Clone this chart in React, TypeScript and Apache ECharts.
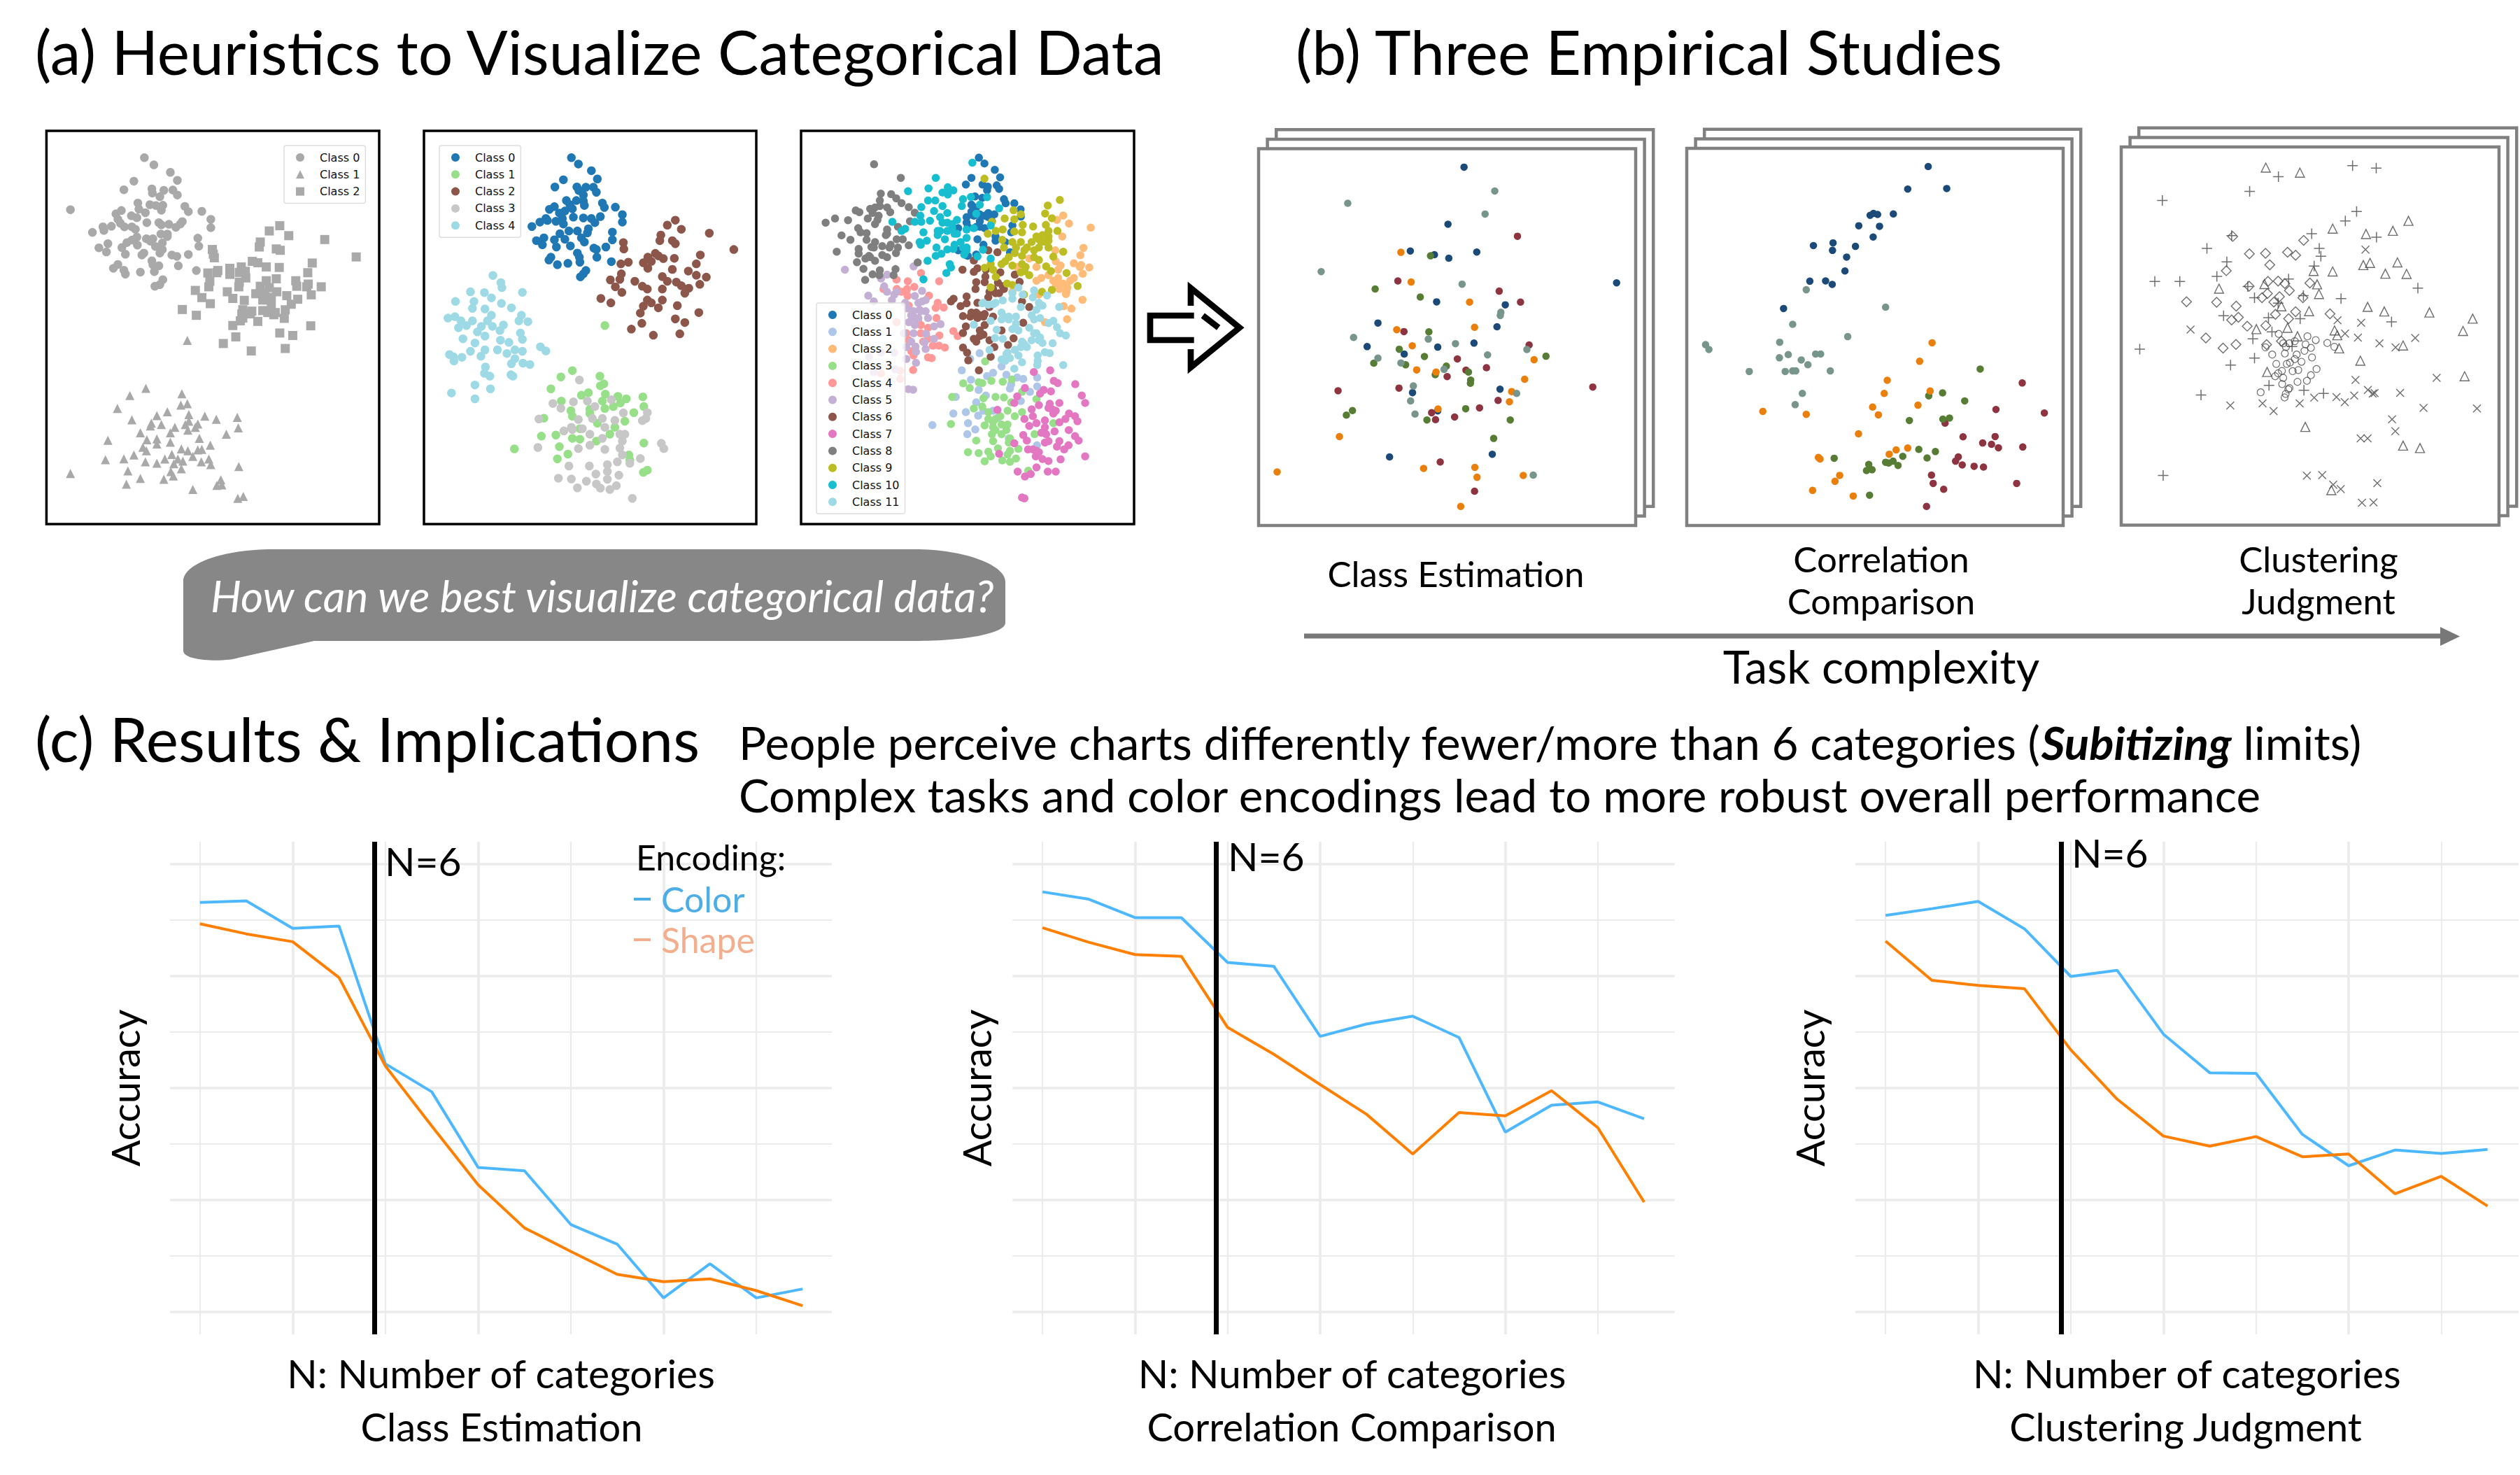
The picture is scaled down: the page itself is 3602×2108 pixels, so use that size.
import React, { useEffect, useRef } from "react";
import * as echarts from "echarts";

const FONT = "Lato";

// ---- (a) heuristics scatter panels (values in picture units of each panel)
const a1Class0 = [[233,165],[252,191],[285,218],[299,247],[212,250],[192,281],[248,278],[272,283],[290,282],[249,293],[299,300],[264,306],[85,353],[220,329],[244,335],[256,338],[270,337],[267,355],[314,341],[321,360],[348,359],[187,356],[222,351],[235,364],[176,368],[207,375],[218,382],[366,388],[180,388],[185,402],[238,400],[262,400],[267,408],[282,406],[309,396],[305,405],[296,417],[366,418],[150,415],[167,413],[152,428],[129,435],[193,415],[208,415],[215,424],[266,441],[279,441],[279,450],[340,456],[218,452],[208,463],[237,458],[250,458],[245,467],[160,476],[198,472],[269,473],[255,486],[342,485],[142,491],[188,490],[219,481],[157,506],[232,510],[269,497],[288,517],[298,522],[321,515],[195,514],[228,517],[264,510],[248,538],[180,551],[250,552],[171,565],[262,556],[253,577],[301,556],[192,572],[195,586],[225,579],[337,573],[270,606],[264,624],[254,630]];
const a1Class1 = [[236,999],[204,1025],[308,1019],[319,1055],[306,1060],[179,1072],[279,1084],[322,1094],[258,1098],[354,1100],[419,1104],[377,1111],[208,1113],[322,1118],[247,1125],[267,1130],[340,1128],[315,1130],[294,1140],[421,1142],[335,1140],[245,1135],[225,1160],[397,1165],[285,1160],[320,1150],[258,1182],[343,1180],[160,1187],[238,1185],[285,1194],[230,1212],[258,1200],[365,1205],[307,1218],[320,1225],[348,1220],[340,1222],[237,1225],[212,1240],[288,1238],[330,1245],[155,1257],[192,1254],[362,1255],[274,1255],[300,1255],[235,1265],[258,1270],[310,1262],[347,1265],[366,1275],[292,1272],[422,1282],[307,1290],[200,1298],[286,1300],[85,1307],[291,1316],[225,1325],[272,1328],[386,1330],[197,1346],[388,1348],[378,1350],[330,1365],[431,1390],[420,1397],[319,826]];
const a1Class2 = [[504,411],[483,430],[522,447],[594,461],[465,470],[463,488],[497,495],[505,500],[369,497],[371,514],[373,527],[657,524],[569,546],[449,540],[460,545],[427,560],[477,560],[503,562],[404,565],[380,573],[360,582],[378,581],[423,580],[435,576],[404,587],[560,581],[436,600],[423,615],[477,610],[497,603],[536,610],[364,612],[422,632],[538,630],[561,622],[558,632],[587,632],[335,645],[362,632],[465,630],[483,635],[399,650],[456,657],[474,655],[498,650],[518,664],[348,671],[410,674],[433,681],[567,661],[540,677],[470,680],[487,670],[527,695],[365,693],[487,700],[309,714],[337,735],[430,715],[515,715],[428,730],[445,730],[470,718],[430,745],[460,757],[492,733],[513,746],[410,772],[566,773],[416,813],[504,799],[530,808],[391,837],[447,864],[515,855],[425,755],[495,725],[480,725],[448,720]];

const a2Class0 = [[1088,165],[1102,188],[1128,212],[1140,242],[1072,245],[1055,271],[1099,271],[1117,272],[1132,272],[1103,284],[1138,290],[1112,300],[1078,320],[1098,320],[1112,322],[1085,335],[1114,338],[1150,329],[1154,345],[1176,344],[1054,342],[1044,352],[1075,358],[1090,350],[1037,385],[1064,365],[1070,385],[1092,380],[1112,383],[1128,385],[1146,378],[1190,371],[1190,398],[1025,398],[1009,414],[1040,392],[1057,395],[1072,405],[1135,400],[1033,455],[1018,465],[1030,480],[1058,488],[1054,462],[1065,440],[1083,430],[1100,430],[1122,422],[1120,437],[1170,434],[1108,455],[1114,470],[1170,462],[1086,484],[1133,492],[1157,488],[1139,525],[1100,510],[1104,525],[1047,525],[1043,535],[1060,552],[1081,547],[1105,543],[1168,541],[1117,573],[1112,585],[1106,596],[1075,460],[1138,497]];
const a2Class1 = [[1090,935],[1067,958],[1145,955],[1153,983],[1146,990],[1047,1001],[1108,1024],[1122,1015],[1156,1020],[1231,1030],[1181,1028],[1198,1037],[1068,1045],[1150,1045],[1186,1052],[1233,1065],[1172,1065],[1155,1072],[1087,1080],[1125,1075],[1213,1087],[1090,1100],[1125,1090],[1033,1107],[1195,1118],[1140,1125],[1175,1140],[1105,1145],[1165,1165],[1028,1172],[1057,1168],[1090,1180],[1105,1183],[1138,1190],[1233,1197],[1064,1210],[974,1218],[1081,1237],[1203,1240],[1060,1254],[1205,1258],[1240,1295],[1232,1303],[1155,772]];
const a2Class2 = [[1296,391],[1280,409],[1308,424],[1364,438],[1267,445],[1265,465],[1290,465],[1296,476],[1192,472],[1193,495],[1413,497],[1346,517],[1256,511],[1262,520],[1241,525],[1294,529],[1187,549],[1202,543],[1232,545],[1248,540],[1272,530],[1338,549],[1241,565],[1290,569],[1188,585],[1322,575],[1338,590],[1358,597],[1185,605],[1166,607],[1215,612],[1270,595],[1280,612],[1176,632],[1298,615],[1345,623],[1308,628],[1323,637],[1189,652],[1240,640],[1270,640],[1230,630],[1147,674],[1167,690],[1315,655],[1240,680],[1270,680],[1300,700],[1232,702],[1262,708],[1248,690],[1226,727],[1343,725],[1296,748],[1315,761],[1229,764],[1208,785],[1252,807],[1305,802]];
const a2Class3 = [[1104,969],[1051,1054],[1092,1048],[1120,1045],[1067,1071],[1135,1065],[1168,1040],[1240,1087],[1192,1088],[1237,1108],[1023,1110],[1102,1112],[1130,1108],[1150,1108],[1175,1115],[1230,1116],[1088,1140],[1073,1153],[1110,1145],[1155,1140],[1185,1165],[1195,1165],[1125,1165],[1090,1148],[1150,1180],[1190,1190],[1268,1198],[1273,1217],[1021,1213],[1102,1217],[1155,1220],[1185,1215],[1125,1205],[1226,1253],[1190,1240],[1124,1280],[1083,1280],[1160,1275],[1180,1265],[1205,1270],[1137,1309],[1160,1300],[1183,1313],[1062,1324],[1088,1327],[1118,1335],[1160,1328],[1138,1345],[1178,1351],[1100,1359],[1146,1360],[1165,1365],[1210,1397]];
const a2Class4 = [[970,340],[931,591],[947,617],[949,635],[886,650],[914,653],[990,652],[928,672],[856,685],[893,685],[948,692],[890,710],[968,708],[915,712],[928,735],[988,735],[841,745],[855,740],[867,755],[890,755],[983,755],[1001,758],[920,755],[878,772],[908,775],[952,770],[862,780],[930,775],[900,795],[945,790],[986,799],[915,810],[871,820],[990,822],[895,835],[963,833],[946,825],[886,865],[915,860],[940,860],[975,860],[1026,849],[1037,864],[990,865],[959,873],[844,877],[852,885],[869,887],[907,883],[853,900],[975,892],[968,910],[991,908],[1005,913],[916,922],[914,945],[925,955],[967,950],[971,955],[895,987],[926,1001],[848,1016],[895,1037]];

const a3Classes = [
  [[811,165],[834,186],[877,209],[899,236],[780,238],[757,262],[826,262],[848,270],[885,265],[895,278],[845,283],[915,315],[922,330],[958,330],[984,352],[795,305],[825,310],[780,335],[800,345],[850,365],[875,370],[760,380],[790,375],[835,375],[985,378],[865,395],[815,415],[835,420],[950,410],[945,435],[765,415],[725,420],[805,460],[880,465],[920,470],[830,480],[725,500],[765,520],[800,515],[940,507],[758,517],[780,360],[815,370],[850,380],[815,395],[880,450],[760,400],[800,415]],
  [[814,872],[775,893],[740,934],[870,943],[905,920],[925,950],[778,968],[1053,960],[845,955],[970,960],[995,965],[945,985],[1053,992],[810,1005],[940,1000],[1023,1012],[715,1030],[840,1025],[985,1045],[800,1050],[705,1090],[757,1085],[808,1098],[890,1105],[766,1125],[618,1132],[796,1148],[763,1165],[935,1180],[1052,1205],[870,1080],[830,1080]],
  [[1161,374],[1135,390],[1185,403],[1275,418],[1157,450],[1245,491],[1232,518],[1128,500],[1130,540],[1205,547],[1235,553],[1269,562],[1050,560],[1140,570],[1242,585],[1205,600],[1070,600],[1140,600],[1190,610],[1050,610],[1178,635],[1145,640],[1172,658],[950,650],[1241,679],[1060,660],[1163,702],[1195,711],[1177,749],[1085,760],[970,560],[1020,530],[1100,590],[1130,620],[1160,620],[1175,650],[1120,610],[1150,555],[1230,560]],
  [[837,902],[746,981],[773,998],[810,977],[825,980],[863,972],[910,975],[948,967],[700,1030],[830,1035],[880,1030],[915,1032],[1050,1038],[990,1012],[790,1072],[825,1065],[945,1050],[850,1085],[930,1080],[990,1085],[960,1100],[695,1128],[880,1110],[835,1133],[870,1140],[930,1130],[1120,1125],[1042,1165],[865,1165],[905,1165],[800,1188],[870,1190],[935,1195],[890,1216],[975,1218],[940,1225],[766,1230],[810,1233],[850,1228],[860,1245],[930,1238],[965,1253],[835,1263],[908,1260],[940,1265],[1016,1297],[870,1120],[900,1100],[925,1150],[880,1150],[905,1130],[850,1110],[940,1180]],
  [[571,582],[469,606],[516,612],[646,612],[543,632],[513,640],[604,664],[515,665],[640,690],[632,708],[665,707],[635,745],[570,770],[705,792],[723,810],[647,808],[600,780],[570,800],[520,825],[620,845],[645,845],[670,852],[600,887],[615,890],[530,865],[538,933],[510,800],[415,640],[485,936],[405,945],[484,965],[470,640],[490,650],[520,700],[560,760],[580,830],[600,820],[540,880],[470,760]],
  [[255,570],[540,558],[430,588],[405,602],[352,664],[418,630],[430,650],[460,660],[545,665],[575,647],[375,685],[575,685],[590,680],[565,715],[590,720],[600,745],[560,745],[540,720],[515,710],[545,770],[625,775],[652,767],[540,800],[592,802],[625,820],[585,833],[548,848],[590,857],[550,867],[510,850],[510,893],[550,907],[518,1002],[538,1004],[460,870],[405,870],[355,885],[375,940],[463,930],[330,800],[450,680],[470,650],[505,690],[530,735],[545,745],[520,760],[500,800],[530,830],[570,720],[560,690]],
  [[850,500],[888,507],[790,537],[805,565],[743,570],[790,578],[840,570],[900,580],[838,595],[960,588],[800,615],[835,615],[890,617],[980,614],[797,640],[915,640],[855,650],[895,655],[706,675],[695,685],[760,667],[850,670],[990,685],[760,692],[735,702],[805,690],[1020,705],[855,705],[800,725],[835,730],[745,738],[775,740],[805,745],[870,740],[995,762],[757,775],[835,770],[905,790],[745,799],[815,790],[800,830],[955,818],[855,825],[932,842],[745,852],[762,870],[875,850],[860,885],[767,898],[811,934],[880,655],[910,630],[870,640],[830,740],[815,735],[780,725],[830,805],[815,810],[790,820]],
  [[1039,940],[1107,934],[1122,972],[1138,980],[1211,984],[1002,998],[1080,1005],[1110,1010],[1065,1018],[1238,1025],[970,1028],[958,1052],[1252,1052],[1105,1055],[1145,1052],[1060,1060],[1030,1075],[1115,1075],[1130,1080],[888,1077],[1185,1090],[1210,1100],[1035,1100],[1000,1110],[1170,1110],[1085,1115],[1145,1122],[1220,1118],[1050,1125],[1020,1135],[1085,1140],[1125,1155],[1184,1150],[995,1168],[1090,1165],[1210,1172],[1225,1188],[1010,1188],[1085,1195],[1145,1190],[958,1198],[1183,1205],[1135,1210],[1165,1220],[1015,1220],[1050,1225],[1035,1220],[895,1236],[1075,1255],[1047,1245],[1100,1262],[1150,1256],[1252,1245],[1050,1285],[972,1300],[1097,1300],[1130,1300],[1002,1318],[1026,1309],[990,1394],[1000,1397],[1100,1070],[1120,1090],[1070,1160],[1100,1190],[1060,1230]],
  [[376,189],[487,238],[404,295],[447,297],[468,312],[490,329],[400,320],[520,344],[300,356],[315,362],[360,350],[380,345],[430,345],[545,364],[443,362],[350,385],[395,375],[214,385],[268,391],[175,400],[525,395],[380,405],[310,420],[475,415],[430,425],[345,438],[320,435],[241,446],[425,445],[278,462],[345,462],[380,470],[470,460],[495,460],[520,482],[365,488],[410,485],[440,490],[475,490],[312,495],[467,510],[221,505],[312,512],[355,520],[410,517],[430,525],[380,538],[305,543],[340,530],[557,544],[332,567],[465,568],[400,572],[370,587],[398,590],[457,590],[339,607],[400,340],[390,390],[370,365],[430,440],[445,480],[360,525],[375,490]],
  [[834,241],[1147,318],[1097,338],[955,355],[985,370],[1086,367],[918,385],[958,388],[1114,384],[865,397],[993,408],[1036,414],[1089,408],[881,430],[910,425],[848,440],[958,432],[990,435],[1100,430],[1137,430],[908,462],[1050,450],[1075,445],[950,470],[985,470],[1030,470],[1100,465],[915,490],[965,490],[1010,490],[1060,490],[1100,490],[1161,505],[1120,523],[935,525],[990,520],[1040,525],[905,550],[950,555],[990,550],[1060,535],[1090,558],[860,550],[835,563],[870,570],[985,580],[1110,575],[1175,582],[1020,590],[881,596],[928,620],[950,625],[1221,629],[860,634],[1073,650],[1114,643],[998,660],[1070,470],[1090,470],[1040,500],[1000,500],[960,510],[1005,560],[1000,575],[920,540],[1060,460],[1100,450]],
  [[784,183],[632,238],[517,286],[602,276],[682,272],[660,291],[705,283],[682,298],[845,308],[600,320],[630,320],[745,315],[778,307],[815,335],[572,344],[660,340],[740,340],[625,358],[895,348],[680,365],[800,368],[568,375],[452,397],[545,397],[572,397],[608,393],[720,390],[660,400],[700,405],[860,410],[490,430],[505,422],[581,435],[640,430],[680,430],[760,425],[790,420],[640,445],[710,440],[670,460],[760,455],[570,480],[595,465],[565,470],[635,490],[710,480],[680,497],[760,490],[705,495],[828,498],[632,520],[655,513],[750,515],[805,522],[860,530],[598,538],[690,550],[695,562],[676,582],[581,605],[650,380],[680,400],[700,420],[720,440],[650,430],[735,470],[745,490],[760,500]],
  [[975,635],[1040,645],[950,655],[993,660],[1094,663],[950,675],[1035,670],[910,681],[825,692],[850,697],[880,690],[1060,690],[1075,700],[1144,705],[1050,715],[985,705],[905,725],[1030,735],[935,740],[965,740],[905,750],[1065,745],[860,755],[1040,750],[790,769],[965,765],[1120,755],[1100,763],[885,787],[950,785],[1020,780],[1135,778],[1050,800],[975,790],[1148,800],[1172,808],[878,817],[910,820],[1065,815],[1030,825],[1075,835],[1117,836],[855,860],[990,830],[1010,850],[960,860],[1085,868],[1105,872],[925,875],[975,880],[1055,880],[905,895],[1055,900],[990,905],[1053,915],[920,900],[1161,915],[958,928],[830,690],[870,695],[915,740],[935,750],[960,780],[1040,800],[1060,825],[985,850],[1000,840],[930,870],[940,890]],
];
const a3Colors = ["#1F77B4","#AEC7E8","#FFBB78","#98DF8A","#FF9896","#C5B0D5","#8C564B","#E377C2","#7F7F7F","#BCBD22","#17BECF","#9EDAE5"];
const a2Colors = ["#1F77B4","#98DF8A","#8C564B","#C7C7C7","#9EDAE5"];
const a1Color = "#A9A9A9";

// ---- (b) three empirical studies
const navy = "#1B4A78", sage = "#78958B", red = "#8E3340", orange = "#EB7F0B", green = "#577C34";
const b1Navy = [[841,180],[783,393],[647,493],[734,507],[786,520],[887,497],[1392,612],[742,683],[990,694],[530,762],[960,776],[491,850],[746,852],[877,837],[625,878],[655,1022],[971,1009],[746,1090],[572,1262],[943,1252]];
const b1Sage = [[952,269],[421,315],[917,355],[325,570],[834,617],[974,722],[972,734],[442,816],[712,822],[810,839],[926,881],[1068,861],[530,893],[613,911],[769,935],[658,997],[1031,1025],[648,1053],[664,1102],[1091,1330]];
const b1Red = [[1034,438],[602,605],[968,643],[1045,684],[624,794],[1076,844],[817,896],[848,938],[922,929],[780,962],[1306,1001],[606,1005],[386,1015],[964,1051],[724,1097],[897,1079],[807,1113],[738,1123],[755,1281],[879,1390]];
const b1Orange = [[613,498],[650,609],[861,684],[598,787],[879,778],[654,847],[1094,899],[670,937],[740,945],[1060,972],[1013,1018],[1005,1056],[747,1083],[391,1186],[166,1318],[695,1305],[880,1301],[888,1338],[1055,1331],[829,1447]];
const b1Green = [[720,511],[520,635],[683,665],[714,795],[607,860],[698,887],[1137,886],[515,912],[630,918],[777,923],[737,955],[857,945],[865,975],[864,987],[438,1089],[416,1106],[847,1082],[707,1124],[1008,1124],[948,1193]];
const b2Navy = [[951,178],[877,262],[1018,260],[741,360],[753,353],[768,357],[825,355],[700,399],[775,401],[752,441],[536,473],[607,463],[605,491],[688,476],[656,516],[650,568],[523,606],[580,605],[604,618],[428,708]];
const b2Sage = [[510,638],[797,703],[461,767],[660,813],[414,834],[146,843],[158,861],[445,880],[413,892],[544,878],[562,878],[492,900],[516,918],[304,943],[434,943],[461,941],[472,941],[597,941],[496,1025],[470,1067]];
const b2Orange = [[965,836],[920,905],[803,976],[792,1025],[958,1016],[914,1069],[353,1092],[510,1103],[750,1076],[771,1105],[699,1176],[877,1229],[835,1236],[810,1252],[554,1264],[560,1270],[631,1331],[614,1353],[533,1387],[680,1408]];
const b2Green = [[1139,934],[1003,1023],[953,1034],[1083,1053],[883,1126],[1004,1121],[1028,1117],[917,1234],[977,1242],[947,1266],[859,1260],[611,1267],[797,1282],[808,1285],[824,1278],[842,1294],[736,1290],[748,1310],[728,1313],[739,1405]];
const b2Red = [[1291,986],[1196,1085],[1371,1098],[1012,1136],[1077,1187],[1193,1186],[1148,1210],[1180,1215],[1205,1228],[1293,1225],[1060,1262],[1050,1278],[1074,1292],[1117,1297],[1151,1300],[963,1330],[969,1361],[1007,1383],[1271,1361],[945,1447]];
const b3Plus = [[669,216],[945,175],[1033,184],[562,271],[237,305],[960,346],[918,381],[793,429],[1034,442],[403,484],[821,484],[827,513],[477,534],[802,550],[440,588],[209,607],[302,607],[707,598],[1188,632],[555,626],[580,668],[762,660],[902,671],[668,688],[465,735],[632,742],[750,746],[1090,758],[645,795],[574,821],[720,850],[153,860],[580,893],[491,919],[634,995],[764,1013],[837,1025],[381,1031],[240,1331],[495,436]];
const b3Triangle = [[622,182],[749,201],[1153,381],[871,410],[995,430],[1095,418],[1010,538],[985,546],[1112,536],[800,568],[871,570],[1067,578],[1146,579],[448,634],[617,617],[813,618],[820,654],[680,700],[1001,702],[783,718],[1063,719],[1231,723],[1392,746],[703,780],[587,785],[878,790],[1356,792],[888,808],[740,812],[1133,846],[895,857],[974,903],[627,945],[1362,961],[769,1150],[1133,1220],[1196,1229],[866,1386]];
const b3Diamond = [[499,439],[763,454],[561,504],[621,502],[703,498],[733,509],[637,545],[475,567],[560,625],[630,607],[668,606],[693,615],[786,613],[710,641],[628,652],[608,668],[673,664],[760,668],[327,683],[439,685],[652,684],[512,699],[733,720],[658,730],[861,728],[495,751],[520,741],[707,746],[553,774],[622,772],[399,818],[511,842],[463,856],[680,830],[625,843]];
const b3Cross = [[889,752],[977,761],[342,787],[917,802],[965,817],[1045,838],[1178,818],[1105,853],[956,975],[1258,967],[1002,1012],[1020,1026],[1027,1024],[1122,1023],[951,1033],[885,1039],[916,1058],[802,1041],[748,1062],[610,1062],[490,1070],[651,1091],[1209,1079],[1408,1081],[1092,1122],[1104,1166],[975,1193],[1001,1193],[993,488],[775,1332],[832,1330],[873,1366],[901,1382],[1037,1360],[980,1433],[1023,1432]];
const b3Circle = [[670,803],[777,812],[808,826],[730,830],[710,838],[687,838],[697,852],[770,842],[790,855],[621,853],[851,837],[877,851],[646,880],[693,876],[737,880],[766,866],[794,891],[730,897],[755,907],[712,910],[661,915],[700,915],[811,934],[682,941],[722,942],[743,938],[668,950],[657,961],[790,957],[687,967],[775,978],[740,982],[683,990],[710,1005],[603,1021],[696,1027],[692,1040],[706,1010]];

// ---- (c) accuracy by number of categories
const categories = [2,3,4,5,6,7,8,9,10,11,12,13,14,15];
const c1Color = [0.731,0.734,0.685,0.689,0.443,0.393,0.258,0.252,0.156,0.121,0.025,0.086,0.025,0.041];
const c1Shape = [0.693,0.675,0.661,0.597,0.439,0.332,0.227,0.150,0.108,0.067,0.054,0.059,0.038,0.011];
const c2Color = [0.750,0.737,0.704,0.704,0.624,0.617,0.492,0.514,0.528,0.490,0.321,0.369,0.375,0.345];
const c2Shape = [0.686,0.660,0.638,0.635,0.508,0.460,0.406,0.353,0.282,0.356,0.350,0.395,0.329,0.196];
const c3Color = [0.708,0.720,0.733,0.684,0.599,0.610,0.496,0.427,0.426,0.317,0.261,0.289,0.283,0.290];
const c3Shape = [0.662,0.592,0.583,0.577,0.468,0.380,0.314,0.296,0.313,0.277,0.282,0.211,0.242,0.189];
const yTicks = [0,0.1,0.2,0.3,0.4,0.5,0.6,0.7,0.8];
const xTicks = [2,4,6,8,10,12,14];
const colorLine = "#4DB8FF", shapeLine = "#FF7F00";
const bubblePath = "M390 785 H1307 C1380 785 1437 808 1437 831 V890 C1437 905 1380 916 1307 916 H449 L341 940 C325 946 262 946 262 930 V831 C262 805 320 785 390 785 Z";
echarts.graphic.registerShape("bubble", echarts.graphic.extendPath(bubblePath, {}));

const PLUS = "path://M0 5H10M5 0V10";
const CROSS = "path://M1 1L9 9M9 1L1 9";
const TRI_ICON = "path://M5 0L10 10H0Z";
const SQ_ICON = "path://M0 0H10V10H0Z";

function buildOption() {
  const grid: any[] = [], xAxis: any[] = [], yAxis: any[] = [], series: any[] = [], legend: any[] = [], graphic: any[] = [];

  const addPanel = (rect: number[], xr: number[], yr: number[], show: boolean) => {
    const i = grid.length;
    grid.push({ left: rect[0], top: rect[1], width: rect[2] - rect[0], height: rect[3] - rect[1], show, borderColor: "#000", borderWidth: 3.5, backgroundColor: "#fff", containLabel: false });
    xAxis.push({ gridIndex: i, type: "value", min: xr[0], max: xr[1], show: false });
    yAxis.push({ gridIndex: i, type: "value", min: yr[0], max: yr[1], inverse: true, show: false });
    return i;
  };
  const scatter = (i: number, name: string, data: number[][], symbol: string, size: number, color: string) =>
    series.push({ type: "scatter", name, xAxisIndex: i, yAxisIndex: i, data, symbol, symbolSize: size, itemStyle: { color, opacity: 1 }, silent: true, z: 2, clip: false });
  const hollow = (i: number, name: string, data: number[][], symbol: string, size: number, stroke: number) =>
    series.push({ type: "scatter", name, xAxisIndex: i, yAxisIndex: i, data, symbol, symbolSize: size, itemStyle: { color: "none", borderColor: "#4A4A4A", borderWidth: stroke }, silent: true, z: 2 });
  const classLegend = (left: number, top: number, names: string[], colors: string[], icons: string[]) =>
    legend.push({
      left, top, orient: "vertical", selectedMode: false, padding: [9, 8, 9, 17], itemGap: 8.3, itemWidth: 46, itemHeight: 12,
      backgroundColor: "rgba(255,255,255,0.8)", borderColor: "#DDDDDD", borderWidth: 1.5, borderRadius: 3, z: 6,
      textStyle: { fontFamily: "DejaVu Sans", fontSize: 16, color: "#111" },
      data: names.map((name, k) => ({ name, icon: icons[k], itemStyle: { color: colors[k] } })),
    });

  // (a)
  const p1 = addPanel([66.4, 187, 542, 749], [37, 703], [68, 1490], true);
  scatter(p1, "Class 0", a1Class0, "circle", 12.5, a1Color);
  scatter(p1, "Class 1", a1Class1, "triangle", 13, a1Color);
  scatter(p1, "Class 2", a1Class2, "rect", 13, a1Color);
  classLegend(406, 208, ["Class 0", "Class 1", "Class 2"], [a1Color, a1Color, a1Color], ["circle", TRI_ICON, SQ_ICON]);

  const p2 = addPanel([606, 187, 1081, 749], [793, 1458], [68, 1490], true);
  [a2Class0, a2Class1, a2Class2, a2Class3, a2Class4].forEach((d, k) => scatter(p2, `Class ${k}`, d, "circle", 12.5, a2Colors[k]));
  classLegend(628, 208, ["Class 0", "Class 1", "Class 2", "Class 3", "Class 4"], a2Colors, a2Colors.map(() => "circle"));

  const p3 = addPanel([1145, 187, 1621, 749], [73, 1455], [68, 1490], true);
  a3Classes.forEach((d, k) => scatter(p3, `Class ${k}`, d, "circle", 11.5, a3Colors[k]));
  classLegend(1167, 433, a3Colors.map((_, k) => `Class ${k}`), a3Colors, a3Colors.map(() => "circle"));

  // (b) stacked frames
  const frame = (x0: number, y0: number, x1: number, y1: number) => ({ type: "rect", z: 0, shape: { x: x0, y: y0, width: x1 - x0, height: y1 - y0 }, style: { fill: "#fff", stroke: "#808080", lineWidth: 4.5 } });
  const stack = (r: number[]) => [2, 1, 0].forEach((k) => graphic.push(frame(r[0] + k * 12.6, r[1] - k * 13.6, r[2] + k * 12.6, r[3] - k * 13.6)));
  stack([1799, 212.5, 2338, 751]);
  stack([2411, 212, 2949, 751]);
  stack([3032, 210, 3572, 750.6]);

  const b1 = addPanel([1799, 212.5, 2338, 751], [99, 1461], [111, 1518], false);
  scatter(b1, "b1 navy", b1Navy, "circle", 10.5, navy);
  scatter(b1, "b1 red", b1Red, "circle", 10.5, red);
  scatter(b1, "b1 green", b1Green, "circle", 10.5, green);
  scatter(b1, "b1 orange", b1Orange, "circle", 10.5, orange);
  scatter(b1, "b1 sage", b1Sage, "circle", 10.5, sage);
  const b2 = addPanel([2411, 212, 2949, 751], [78, 1439], [110, 1518], false);
  scatter(b2, "b2 navy", b2Navy, "circle", 10.5, navy);
  scatter(b2, "b2 sage", b2Sage, "circle", 10.5, sage);
  scatter(b2, "b2 red", b2Red, "circle", 10.5, red);
  scatter(b2, "b2 green", b2Green, "circle", 10.5, green);
  scatter(b2, "b2 orange", b2Orange, "circle", 10.5, orange);
  const b3 = addPanel([3032, 210, 3572, 750.6], [84, 1490], [105, 1517], false);
  hollow(b3, "b3 plus", b3Plus, PLUS, 15, 1.5);
  hollow(b3, "b3 triangle", b3Triangle, "triangle", 13, 1.4);
  hollow(b3, "b3 diamond", b3Diamond, "diamond", 14, 1.4);
  hollow(b3, "b3 cross", b3Cross, CROSS, 11, 1.4);
  hollow(b3, "b3 circle", b3Circle, "circle", 10, 1.2);

  // (c) line charts
  const lineChart = (rect: number[], xr: number[], color: number[], shape: number[], nLine: number, nameGapY: number, namePad: number) => {
    const i = grid.length;
    grid.push({ left: rect[0], top: 1203, width: rect[1] - rect[0], height: 704, containLabel: false });
    xAxis.push({
      gridIndex: i, type: "value", min: xr[0], max: xr[1], axisLine: { show: false }, axisTick: { show: false }, axisLabel: { show: false }, splitLine: { show: false },
      name: "N: Number of categories", nameLocation: "middle", nameGap: 26,
      nameTextStyle: { fontFamily: FONT, fontSize: 57, color: "#000", padding: [0, 0, 0, namePad] },
    });
    yAxis.push({
      gridIndex: i, type: "value", min: -0.0401, max: 0.8395, axisLine: { show: false }, axisTick: { show: false }, axisLabel: { show: false }, splitLine: { show: false },
      name: "Accuracy", nameLocation: "middle", nameRotate: 90, nameGap: nameGapY,
      nameTextStyle: { fontFamily: FONT, fontSize: 56, color: "#000" },
    });
    const gridColor = "#EBEBEB";
    series.push({
      type: "line", name: "grid", xAxisIndex: i, yAxisIndex: i, data: [], silent: true,
      markLine: {
        silent: true, symbol: "none", animation: false, z: 1, label: { show: false },
        data: [
          ...yTicks.map((v, k) => ({ yAxis: v, lineStyle: { type: "solid", color: gridColor, width: k % 2 === 0 ? 3.6 : 2.2 } })),
          ...xTicks.map((v, k) => ({ xAxis: v, lineStyle: { type: "solid", color: gridColor, width: k % 2 === 1 ? 3.6 : 2.2 } })),
        ],
      },
    });
    const line = (name: string, vals: number[], c: string) =>
      series.push({ type: "line", name, xAxisIndex: i, yAxisIndex: i, data: categories.map((n, k) => [n, vals[k]]), showSymbol: false, symbol: "none", silent: true, z: 3, lineStyle: { color: c, width: 4 }, itemStyle: { color: c } });
    line("Color", color, colorLine);
    line("Shape", shape, shapeLine);
    series.push({
      type: "line", name: "N=6 marker", xAxisIndex: i, yAxisIndex: i, data: [], silent: true,
      markLine: { silent: true, symbol: "none", animation: false, z: 5, label: { show: false }, data: [{ xAxis: nLine, lineStyle: { type: "solid", color: "#000", width: 7 } }] },
    });
  };
  lineChart([243, 1189], [1.354, 15.63], c1Color, c1Shape, 5.757, 37, 0);
  lineChart([1447.3, 2393.7], [1.353, 15.66], c2Color, c2Shape, 5.754, 24, 24);
  lineChart([2651.8, 3600], [1.345, 15.67], c3Color, c3Shape, 5.797, 37, 0);

  legend.push({
    left: 906, top: 1260, orient: "vertical", selectedMode: false, padding: 0, itemGap: 8, itemWidth: 24, itemHeight: 4, icon: "rect",
    textStyle: { fontFamily: FONT, fontSize: 50 },
    data: [
      { name: "Color", itemStyle: { color: "#4DAEE5" }, textStyle: { color: "#4DAEE5", padding: [0, 0, 0, 10] } },
      { name: "Shape", itemStyle: { color: "#F2AE8D" }, textStyle: { color: "#F2AE8D", padding: [0, 0, 0, 10] } },
    ],
  });

  // text placed by baseline
  const tOff = 0.2; // distance from baseline to the text box's bottom, per font size
  const TB = (text: string, x: number, base: number, size: number, align = "left", extra: any = {}) =>
    graphic.push({ type: "text", z: 8, x, y: base + size * tOff, style: { text, x: 0, y: 0, fontFamily: FONT, fontSize: size, fill: "#000", align, verticalAlign: "bottom", lineHeight: size, ...extra } });

  TB("(a) Heuristics to Visualize Categorical Data", 50, 100, 87.5);
  TB("(b) Three Empirical Studies", 1852, 100, 87.5);
  TB("(c) Results & Implications", 50, 1082, 87.5);
  TB("People perceive charts differently fewer/more than 6 categories ({b|Subitizing} limits)", 1056, 1080, 65.5, "left", {
    rich: { b: { fontFamily: FONT, fontSize: 65.5, fontWeight: "bold", fontStyle: "italic", fill: "#000", color: "#000" } },
  });
  TB("Complex tasks and color encodings lead to more robust overall performance", 1056, 1155, 65.5);

  TB("Class Estimation", 2081, 835, 51, "center");
  TB("Correlation", 2689, 814, 51, "center");
  TB("Comparison", 2689, 874, 51, "center");
  TB("Clustering", 3314, 814, 51, "center");
  TB("Judgment", 3314, 874, 51, "center");
  TB("Task complexity", 2689, 971, 65, "center");

  TB("How can we best visualize categorical data?", 301, 870, 62, "left", { fill: "#fff", fontStyle: "italic" });

  TB("N=6", 550, 1247, 57);
  TB("N=6", 1755, 1240, 57);
  TB("N=6", 2961, 1235, 57);
  TB("Encoding:", 909, 1240, 50);

  TB("Class Estimation", 717, 2055, 56, "center");
  TB("Correlation Comparison", 1932, 2055, 56, "center");
  TB("Clustering Judgment", 3124, 2055, 56, "center");

  graphic.push({ type: "bubble", z: 1, x: 0, y: 0, style: { fill: "#878787" } });

  // outlined arrow
  const arrowLine = { stroke: "#000", lineWidth: 8.7, fill: "none", lineJoin: "miter", lineCap: "butt" };
  graphic.push({ type: "polyline", z: 1, shape: { points: [[1706.7, 451], [1644, 451], [1644, 486], [1706.7, 486]] }, style: arrowLine });
  graphic.push({ type: "polyline", z: 1, shape: { points: [[1702, 437], [1702, 411.7], [1771.7, 468.3], [1702, 525], [1702, 499]] }, style: arrowLine });
  graphic.push({ type: "polyline", z: 1, shape: { points: [[1719.3, 451], [1741.7, 468.3]] }, style: arrowLine });

  // task complexity arrow
  graphic.push({ type: "line", z: 1, shape: { x1: 1864, y1: 909, x2: 3490, y2: 909 }, style: { stroke: "#787878", lineWidth: 7 } });
  graphic.push({ type: "polygon", z: 1, shape: { points: [[3488, 896], [3516, 909.5], [3488, 923]] }, style: { fill: "#787878" } });

  return { animation: false, backgroundColor: "#fff", grid, xAxis, yAxis, series, legend, graphic };
}

export default function App() {
  const ref = useRef<HTMLDivElement>(null);
  useEffect(() => {
    document.body.style.margin = "0";
    const chart = echarts.init(ref.current!, undefined, { renderer: "svg" });
    chart.setOption(buildOption() as any);
    return () => chart.dispose();
  }, []);
  return <div ref={ref} style={{ position: "absolute", left: 0, top: 0, width: 3602, height: 2108 }} />;
}
